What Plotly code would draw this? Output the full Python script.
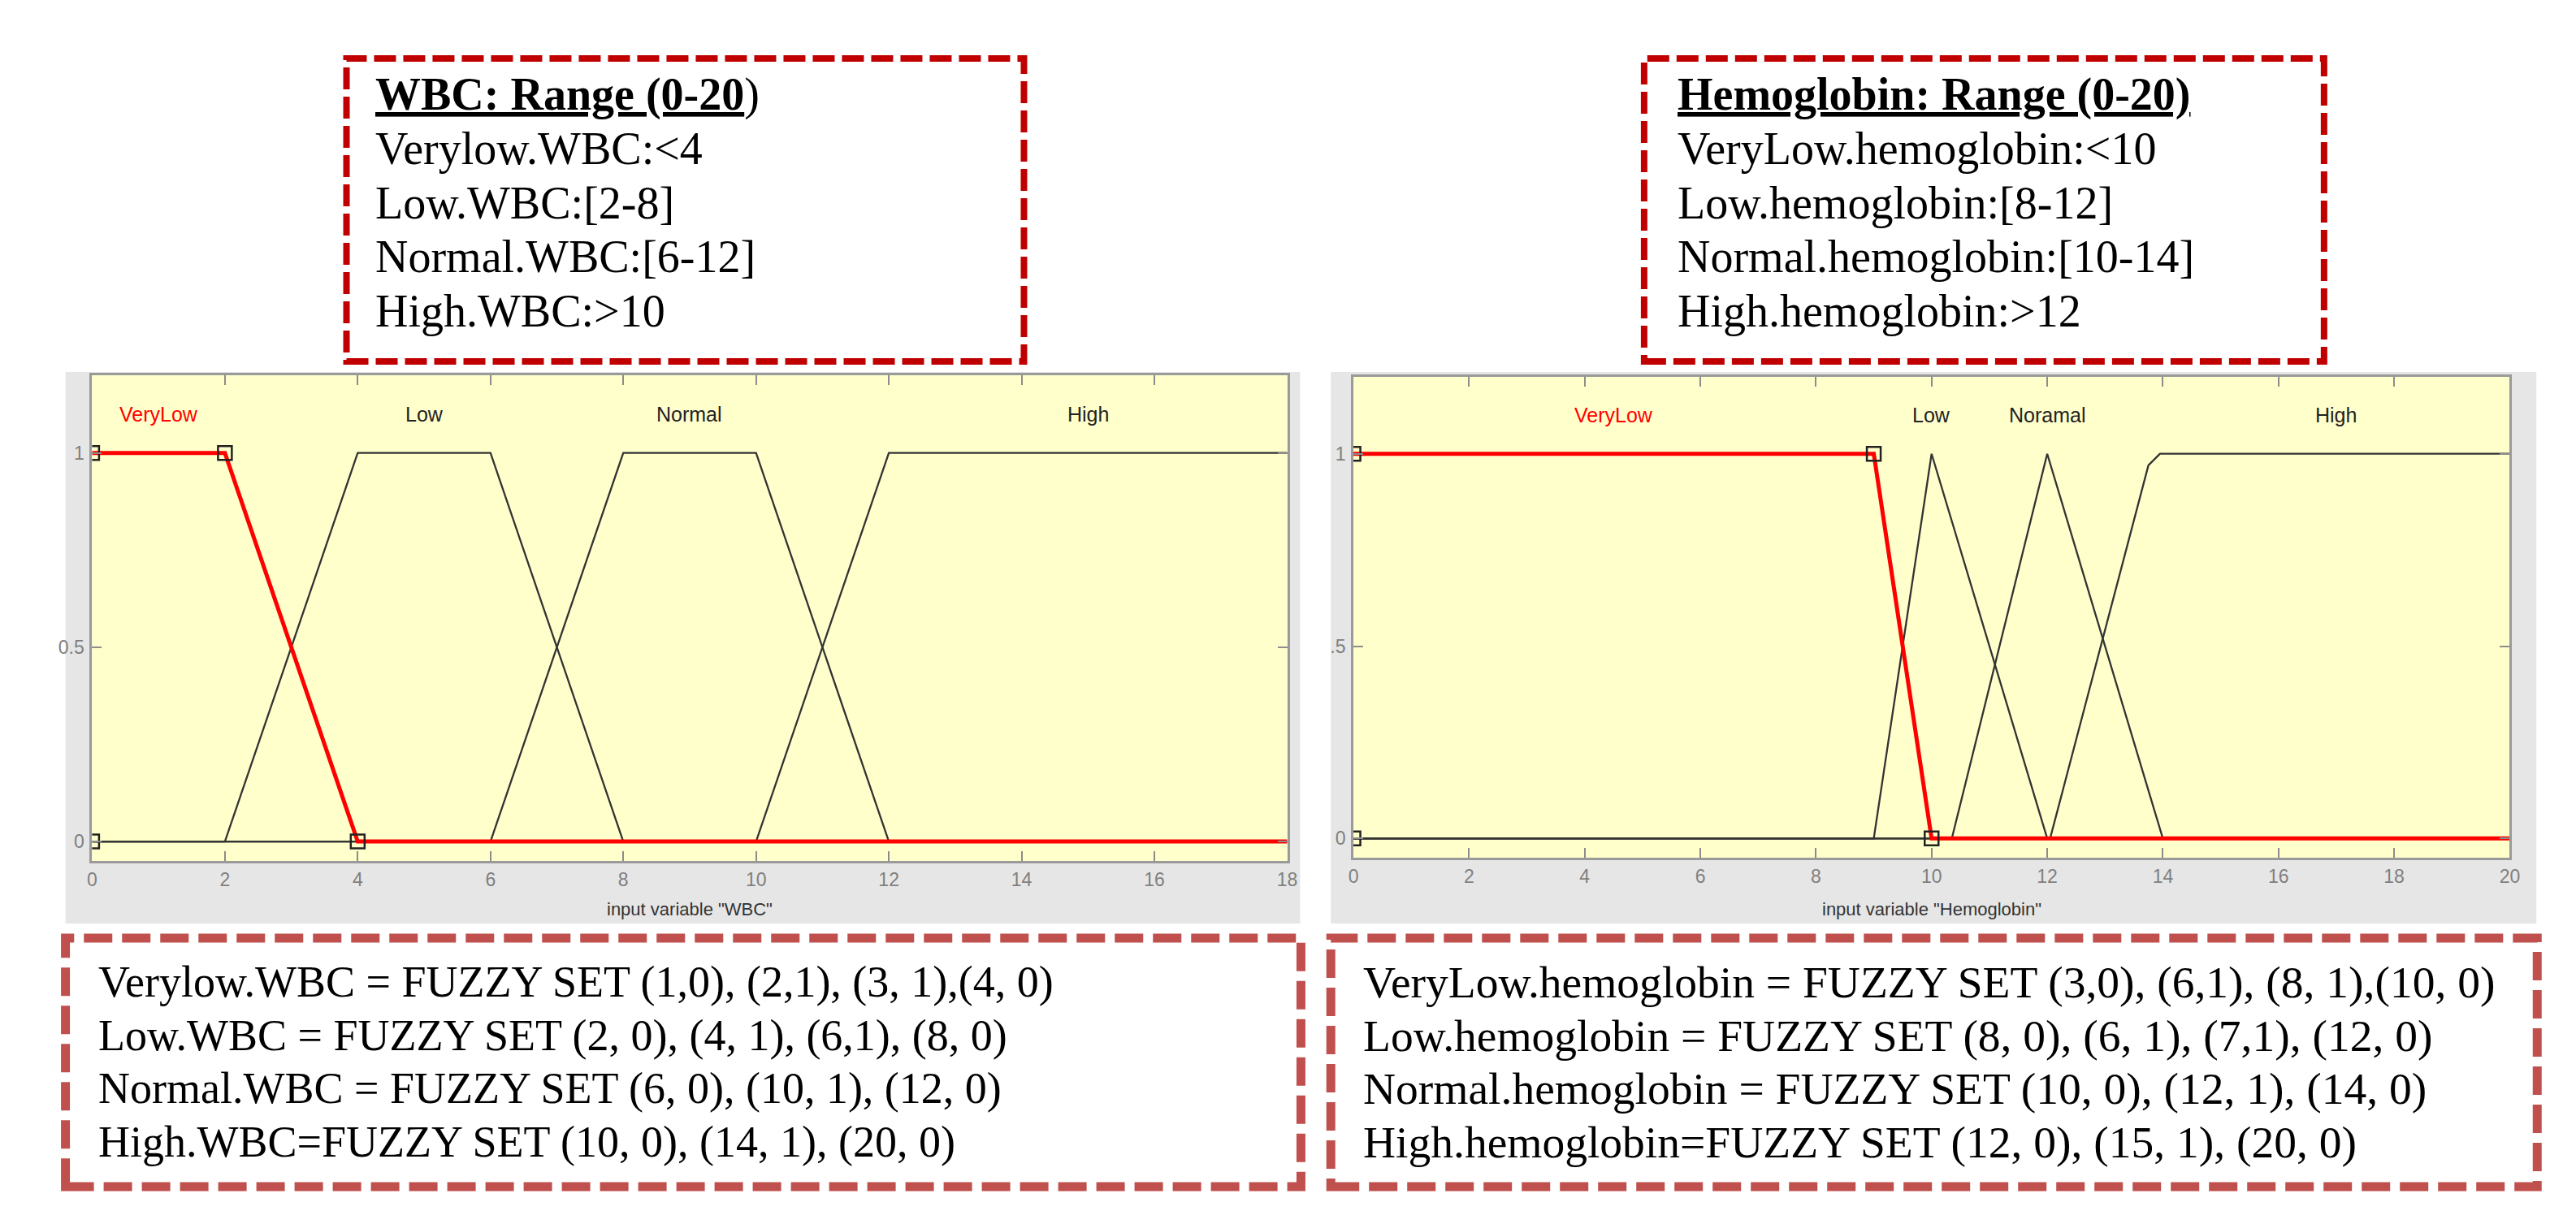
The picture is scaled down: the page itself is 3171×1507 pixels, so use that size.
import plotly.graph_objects as go

W, H = 3171, 1507

# membership functions
wbc_ticks = [0, 2, 4, 6, 8, 10, 12, 14, 16, 18]
wbc_verylow_x = [0, 2, 4, 18]
wbc_verylow_y = [1, 1, 0, 0]
wbc_low_x = [0, 2, 4, 6, 8, 18]
wbc_low_y = [0, 0, 1, 1, 0, 0]
wbc_normal_x = [0, 6, 8, 10, 12, 18]
wbc_normal_y = [0, 0, 1, 1, 0, 0]
wbc_high_x = [0, 10, 12, 18]
wbc_high_y = [0, 0, 1, 1]
wbc_handles_x = [0, 2, 4, 0]
wbc_handles_y = [1, 1, 0, 0]
wbc_labels = ["VeryLow", "Low", "Normal", "High"]
wbc_label_x = [1, 5, 9, 15]

hb_ticks = [0, 2, 4, 6, 8, 10, 12, 14, 16, 18, 20]
hb_verylow_x = [0, 9, 10, 20]
hb_verylow_y = [1, 1, 0, 0]
hb_low_x = [0, 9, 10, 12, 20]
hb_low_y = [0, 0, 1, 0, 0]
hb_normal_x = [0, 10.35, 12, 14, 20]
hb_normal_y = [0, 0, 1, 0, 0]
hb_high_x = [0, 12.05, 13.75, 13.95, 20]
hb_high_y = [0, 0, 0.97, 1, 1]
hb_handles_x = [0, 9, 10, 0]
hb_handles_y = [1, 1, 0, 0]
hb_labels = ["VeryLow", "Low", "Noramal", "High"]
hb_label_x = [4.5, 10, 12, 17]

wbc_ranges = ["<b><u>WBC: Range (0-20</u></b>)",
              "Verylow.WBC:&lt;4",
              "Low.WBC:[2-8]",
              "Normal.WBC:[6-12]",
              "High.WBC:&gt;10"]
hb_ranges = ["<b><u>Hemoglobin: Range (0-20)</u></b>",
             "VeryLow.hemoglobin:&lt;10",
             "Low.hemoglobin:[8-12]",
             "Normal.hemoglobin:[10-14]",
             "High.hemoglobin:&gt;12"]
wbc_sets = ["Verylow.WBC = FUZZY SET (1,0), (2,1), (3, 1),(4, 0)",
            "Low.WBC = FUZZY SET (2, 0), (4, 1), (6,1), (8, 0)",
            "Normal.WBC = FUZZY SET (6, 0), (10, 1), (12, 0)",
            "High.WBC=FUZZY SET (10, 0), (14, 1), (20, 0)"]
hb_sets = ["VeryLow.hemoglobin = FUZZY SET (3,0), (6,1), (8, 1),(10, 0)",
           "Low.hemoglobin = FUZZY SET (8, 0), (6, 1), (7,1), (12, 0)",
           "Normal.hemoglobin = FUZZY SET (10, 0), (12, 1), (14, 0)",
           "High.hemoglobin=FUZZY SET (12, 0), (15, 1), (20, 0)"]


def px(x):
    return x / W


def py(y):
    return 1 - y / H


SERIF = "Liberation Serif, Times New Roman, serif"
SANS = "Liberation Sans, Arial, sans-serif"
MF_COLOR = "#333333"

fig = go.Figure()

# black membership functions first, selected (red) one on top
for xs, ys, xa, ya in [(wbc_low_x, wbc_low_y, "x", "y"),
                       (wbc_normal_x, wbc_normal_y, "x", "y"),
                       (wbc_high_x, wbc_high_y, "x", "y"),
                       (hb_low_x, hb_low_y, "x2", "y2"),
                       (hb_normal_x, hb_normal_y, "x2", "y2"),
                       (hb_high_x, hb_high_y, "x2", "y2")]:
    fig.add_scatter(x=xs, y=ys, mode="lines", line=dict(color=MF_COLOR, width=2.3),
                    xaxis=xa, yaxis=ya, showlegend=False, hoverinfo="skip")

fig.add_scatter(x=wbc_verylow_x, y=wbc_verylow_y, mode="lines",
                line=dict(color="#ff0000", width=5), xaxis="x", yaxis="y",
                showlegend=False)
fig.add_scatter(x=hb_verylow_x, y=hb_verylow_y, mode="lines",
                line=dict(color="#ff0000", width=5), xaxis="x2", yaxis="y2",
                showlegend=False)

for hx, hy, xa, ya in [(wbc_handles_x, wbc_handles_y, "x", "y"),
                       (hb_handles_x, hb_handles_y, "x2", "y2")]:
    fig.add_scatter(x=hx, y=hy, mode="markers", xaxis=xa, yaxis=ya,
                    marker=dict(symbol="square-open", size=17, color="#222222",
                                line=dict(width=2.5)),
                    showlegend=False)

axis_common = dict(ticks="inside", ticklen=12, tickwidth=2, tickcolor="#8c8c8c",
                   showline=True, linecolor="#9a9a9a", linewidth=3, mirror="ticks",
                   showgrid=False, zeroline=False,
                   tickfont=dict(family=SANS, size=23, color="#7f7f7f"))

fig.update_layout(
    width=W, height=H,
    margin=dict(l=0, r=0, t=0, b=0),
    paper_bgcolor="white",
    plot_bgcolor="#ffffcc",
    xaxis=dict(domain=[px(100), px(1580)], range=[0, 18], tickvals=wbc_ticks,
               anchor="y", ticklabelstandoff=0, **axis_common),
    yaxis=dict(domain=[py(1052), py(454)], range=[-0.05, 1.2], tickvals=[0, 0.5, 1],
               ticktext=["0", "0.5", "1"], anchor="x", ticklabelstandoff=2,
               **axis_common),
    xaxis2=dict(domain=[px(1662), px(3094)], range=[0, 20], tickvals=hb_ticks,
                anchor="y2", ticklabelstandoff=0, **axis_common),
    yaxis2=dict(domain=[py(1048), py(456)], range=[-0.05, 1.2], tickvals=[0, 0.5, 1],
                ticktext=["0", ".5", "1"], anchor="x2", ticklabelstandoff=2,
                **axis_common),
)

# grey figure panels, then the yellow axes background on top of them
for x0, x1 in [(67, 1596), (1634, 3127)]:
    fig.add_shape(type="rect", xref="paper", yref="paper", layer="below",
                  x0=px(x0), x1=px(x1), y0=py(1129), y1=py(450),
                  fillcolor="#e6e6e6", line=dict(width=0))
for xa, ya in [("x", "y"), ("x2", "y2")]:
    fig.add_shape(type="rect", xref=xa + " domain", yref=ya + " domain", layer="below",
                  x0=0, x1=1, y0=0, y1=1, fillcolor="#ffffcc", line=dict(width=0))

# dashed frames
for x0, x1 in [(415, 1254), (2022, 2864)]:
    fig.add_shape(type="rect", xref="paper", yref="paper",
                  x0=px(x0), x1=px(x1), y0=py(437), y1=py(64),
                  line=dict(color="#c00000", width=8, dash="27px,9px"))
for x0, x1 in [(67, 1597), (1634, 3128)]:
    fig.add_shape(type="rect", xref="paper", yref="paper",
                  x0=px(x0), x1=px(x1), y0=py(1453), y1=py(1147),
                  line=dict(color="#c0504d", width=11, dash="35px,12px"))

top_baselines = [135, 201, 268, 334, 401]
bottom_baselines = [1222, 1288, 1353, 1419]

for lines, x0, fs in [(wbc_ranges, 449, 56), (hb_ranges, 2061, 56)]:
    for txt, b in zip(lines, top_baselines):
        fig.add_annotation(x=px(x0), y=py(b - 26), xref="paper", yref="paper",
                           text=txt, showarrow=False, xanchor="left", yanchor="middle",
                           font=dict(family=SERIF, size=fs, color="black"))
for lines, x0, fs in [(wbc_sets, 106, 54), (hb_sets, 1672, 55.5)]:
    for txt, b in zip(lines, bottom_baselines):
        fig.add_annotation(x=px(x0), y=py(b - 21), xref="paper", yref="paper",
                           text=txt, showarrow=False, xanchor="left", yanchor="middle",
                           font=dict(family=SERIF, size=fs, color="black"))

# membership function names
for names, xs, xa, ya in [(wbc_labels, wbc_label_x, "x", "y"),
                          (hb_labels, hb_label_x, "x2", "y2")]:
    for i, (name, xv) in enumerate(zip(names, xs)):
        fig.add_annotation(x=xv, y=1.1, xref=xa, yref=ya, text=name, showarrow=False,
                           xanchor="center", yanchor="middle",
                           font=dict(family=SANS, size=25,
                                     color="#ff0000" if i == 0 else "#222222"))

# axis titles
for txt, cx in [('input variable "WBC"', 840), ('input variable "Hemoglobin"', 2378)]:
    fig.add_annotation(x=px(cx), y=py(1111), xref="paper", yref="paper", text=txt,
                       showarrow=False, xanchor="center", yanchor="middle",
                       font=dict(family=SANS, size=22, color="#333333"))

fig.write_html("out.html")
